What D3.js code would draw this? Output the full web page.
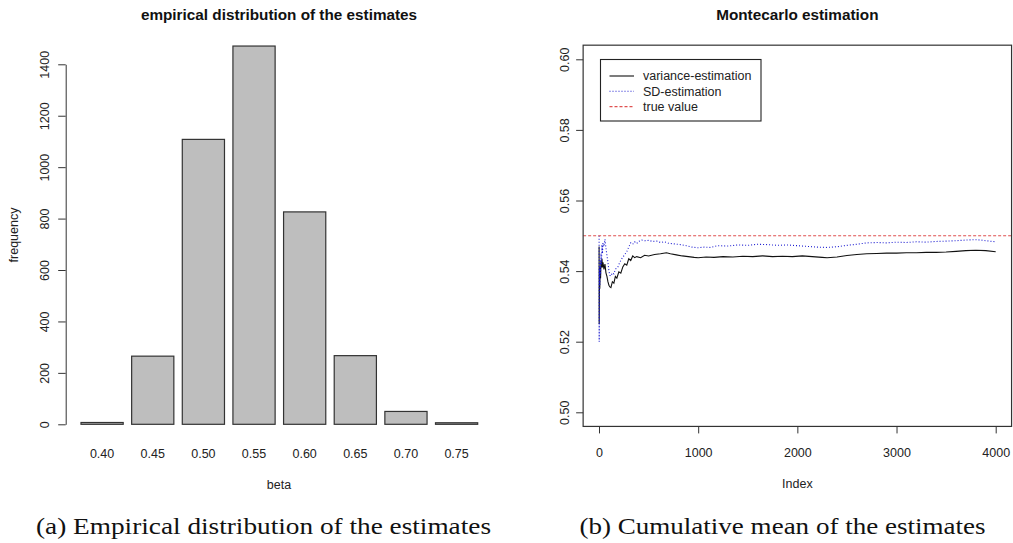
<!DOCTYPE html>
<html>
<head>
<meta charset="utf-8">
<script src="https://cdn.jsdelivr.net/npm/d3@7"></script>
<style>
  body { margin: 0; background: #fff; }
  svg { display: block; font-family: "Liberation Sans", Arial, sans-serif; }
  .caption { font-family: "Liberation Serif", "DejaVu Serif", serif; font-size: 23px; fill: #111; }
  .title { font-weight: bold; font-size: 15.3px; fill: #111; }
  .lab { font-size: 12.5px; fill: #222; }
</style>
</head>
<body>
<svg id="fig" width="1013" height="543"></svg>
<script>
// left panel: histogram of beta estimates
const betaLabels = ['0.40', '0.45', '0.50', '0.55', '0.60', '0.65', '0.70', '0.75'];
const frequency = [7, 265, 1108, 1471, 826, 267, 50, 6];
const freqTicks = [0, 200, 400, 600, 800, 1000, 1200, 1400];

// right panel: cumulative means, [index, value]
const indexTicks = [0, 1000, 2000, 3000, 4000];
const estimateTicks = [0.50, 0.52, 0.54, 0.56, 0.58, 0.60];
const trueValue = 0.55;
const varianceEstimation = [
    [1, 0.547], [2, 0.525], [3, 0.530], [5, 0.537], [8, 0.535], [12, 0.541], [16, 0.538], [20, 0.543],
    [25, 0.541], [30, 0.5435], [35, 0.541], [40, 0.5425], [50, 0.5405], [60, 0.542], [70, 0.5395],
    [80, 0.5385], [90, 0.537], [100, 0.536], [110, 0.5355], [120, 0.5353], [135, 0.5370], [150, 0.5366],
    [165, 0.5385], [180, 0.5380], [200, 0.5398], [220, 0.5394], [240, 0.5412], [260, 0.5421],
    [280, 0.5417], [300, 0.5435], [320, 0.5430], [340, 0.5443], [360, 0.5438], [380, 0.5441],
    [420, 0.5438], [460, 0.5445], [500, 0.5443], [560, 0.5447], [620, 0.5449], [680, 0.5452],
    [720, 0.5449], [780, 0.5446], [840, 0.5443], [900, 0.5441], [960, 0.5439], [1000, 0.5438],
    [1080, 0.5440], [1160, 0.5439], [1250, 0.5441], [1350, 0.5440], [1450, 0.5442], [1550, 0.5441],
    [1650, 0.5443], [1750, 0.5441], [1850, 0.5442], [1950, 0.5441], [2050, 0.5443], [2150, 0.5441],
    [2250, 0.5439], [2300, 0.5438], [2400, 0.5440], [2500, 0.5444], [2600, 0.5447], [2700, 0.5449],
    [2800, 0.5450], [2900, 0.5451], [3000, 0.5451], [3100, 0.5452], [3200, 0.5452], [3300, 0.5453],
    [3400, 0.5453], [3500, 0.5454], [3600, 0.5456], [3700, 0.5458], [3800, 0.5459], [3900, 0.5458],
    [4000, 0.5455]
];
const sdEstimation = [
    [1, 0.550], [2, 0.520], [3, 0.532], [5, 0.541], [8, 0.536], [12, 0.543], [16, 0.539], [20, 0.545],
    [25, 0.542], [30, 0.5475], [35, 0.545], [40, 0.548], [50, 0.5470], [60, 0.5490], [70, 0.5465],
    [80, 0.5445], [90, 0.5425], [100, 0.5400], [110, 0.5388], [120, 0.5386], [135, 0.5395],
    [150, 0.5392], [165, 0.5405], [190, 0.5412], [210, 0.5425], [230, 0.5435], [260, 0.5447],
    [280, 0.5455], [300, 0.5468], [320, 0.5480], [340, 0.5476], [360, 0.5483], [380, 0.5478],
    [400, 0.5484], [430, 0.5488], [460, 0.5486], [500, 0.5487], [540, 0.5484], [580, 0.5485],
    [620, 0.5481], [660, 0.5483], [700, 0.5479], [760, 0.5477], [820, 0.5475], [880, 0.5472],
    [940, 0.5468], [1000, 0.5466], [1060, 0.5468], [1120, 0.5467], [1200, 0.5472], [1300, 0.5471],
    [1400, 0.5474], [1500, 0.5473], [1600, 0.5476], [1700, 0.5475], [1800, 0.5473], [1900, 0.5474],
    [2000, 0.5472], [2100, 0.5470], [2200, 0.5468], [2300, 0.5467], [2400, 0.5469], [2500, 0.5473],
    [2600, 0.5476], [2700, 0.5480], [2800, 0.5481], [2900, 0.5480], [3000, 0.5482], [3100, 0.5481],
    [3200, 0.5483], [3300, 0.5482], [3400, 0.5484], [3500, 0.5485], [3600, 0.5486], [3700, 0.5488],
    [3800, 0.5489], [3850, 0.5488], [3900, 0.5486], [4000, 0.5483]
];
const legendItems = [
    { label: 'variance-estimation', color: '#111', dash: null },
    { label: 'SD-estimation', color: '#1a1ad0', dash: '1,2' },
    { label: 'true value', color: '#e05050', dash: '3,2' }
];

const svg = d3.select('#fig');
svg.append('rect').attr('width', 1013).attr('height', 543).attr('fill', '#fff');

// strip the fonts d3.axis puts on its group so the css applies
function plainAxis(g) {
    g.attr('font-family', null).attr('font-size', null);
    g.selectAll('line').attr('stroke', '#333');
    g.selectAll('text').attr('class', 'lab').attr('fill', null);
}

// ---------- left panel ----------
const left = svg.append('g');
const xBand = d3.scaleBand().domain(betaLabels).range([81, 477.7]).paddingInner(1 / 6).paddingOuter(0);
const yFreq = d3.scaleLinear().domain([0, 1400]).range([424.3, 64.3]);

left.selectAll('rect.bar')
    .data(frequency)
    .enter().append('rect')
    .attr('class', 'bar')
    .attr('x', (d, i) => xBand(betaLabels[i]))
    .attr('y', d => yFreq(d))
    .attr('width', xBand.bandwidth())
    .attr('height', d => yFreq(0) - yFreq(d))
    .attr('fill', '#bebebe')
    .attr('stroke', '#333')
    .attr('stroke-width', 1.2);

const yAxisL = left.append('g')
    .attr('transform', 'translate(65.7,0)')
    .call(d3.axisLeft(yFreq).tickValues(freqTicks).tickSize(7.5).tickSizeOuter(0).tickFormat(d3.format('d')))
    .call(plainAxis);
yAxisL.select('.domain').attr('stroke', '#333');
yAxisL.selectAll('text')
    .attr('transform', 'rotate(-90)')
    .attr('x', 0).attr('y', -16.5).attr('dy', 0)
    .attr('text-anchor', 'middle');

left.selectAll('text.cat')
    .data(betaLabels)
    .enter().append('text')
    .attr('class', 'lab cat')
    .attr('x', d => xBand(d) + xBand.bandwidth() / 2)
    .attr('y', 458)
    .attr('text-anchor', 'middle')
    .text(d => d);

left.append('text').attr('class', 'lab').attr('x', 279).attr('y', 489).attr('text-anchor', 'middle').text('beta');
left.append('text').attr('class', 'lab')
    .attr('transform', 'translate(17.5,235) rotate(-90)')
    .attr('text-anchor', 'middle').text('frequency');
left.append('text').attr('class', 'title').attr('x', 279).attr('y', 19.5).attr('text-anchor', 'middle')
    .text('empirical distribution of the estimates');

// ---------- right panel ----------
const right = svg.append('g');
const xIdx = d3.scaleLinear().domain([0, 4000]).range([599, 995.7]);
const yEst = d3.scaleLinear().domain([0.50, 0.60]).range([412.3, 59.3]);
const boxL = xIdx(-160), boxR = xIdx(4160), boxT = yEst(0.604), boxB = yEst(0.496);

const clip = right.append('clipPath').attr('id', 'plotclip');
clip.append('rect').attr('x', boxL).attr('y', boxT).attr('width', boxR - boxL).attr('height', boxB - boxT);

const line = d3.line().x(d => xIdx(d[0])).y(d => yEst(d[1]));
const lines = right.append('g').attr('clip-path', 'url(#plotclip)');
lines.append('path').datum(varianceEstimation)
    .attr('d', line).attr('fill', 'none').attr('stroke', legendItems[0].color).attr('stroke-width', 1.1);
lines.append('path').datum(sdEstimation)
    .attr('d', line).attr('fill', 'none').attr('stroke', legendItems[1].color).attr('stroke-width', 1.1)
    .attr('stroke-dasharray', legendItems[1].dash);
lines.append('line')
    .attr('x1', boxL).attr('x2', boxR).attr('y1', yEst(trueValue)).attr('y2', yEst(trueValue))
    .attr('stroke', legendItems[2].color).attr('stroke-width', 1.1).attr('stroke-dasharray', legendItems[2].dash);

right.append('rect')
    .attr('x', boxL).attr('y', boxT).attr('width', boxR - boxL).attr('height', boxB - boxT)
    .attr('fill', 'none').attr('stroke', '#333').attr('stroke-width', 1.2);

const xAxisR = right.append('g')
    .attr('transform', `translate(0,${boxB})`)
    .call(d3.axisBottom(xIdx).tickValues(indexTicks).tickSize(7).tickFormat(d3.format('d')))
    .call(plainAxis);
xAxisR.select('.domain').remove();
xAxisR.selectAll('text').attr('y', 457.5 - boxB).attr('dy', 0);

const yAxisR = right.append('g')
    .attr('transform', `translate(${boxL},0)`)
    .call(d3.axisLeft(yEst).tickValues(estimateTicks).tickSize(7).tickFormat(d3.format('.2f')))
    .call(plainAxis);
yAxisR.select('.domain').remove();
yAxisR.selectAll('text')
    .attr('transform', 'rotate(-90)')
    .attr('x', 0).attr('y', -14.5).attr('dy', 0)
    .attr('text-anchor', 'middle');

right.append('text').attr('class', 'lab').attr('x', (boxL + boxR) / 2).attr('y', 488).attr('text-anchor', 'middle').text('Index');
right.append('text').attr('class', 'title').attr('x', (boxL + boxR) / 2).attr('y', 20).attr('text-anchor', 'middle')
    .text('Montecarlo estimation');

// legend
const legend = right.append('g');
legend.append('rect').attr('x', 600.5).attr('y', 59.5).attr('width', 160.5).attr('height', 61.5)
    .attr('fill', '#fff').attr('stroke', '#222').attr('stroke-width', 1.1);
legendItems.forEach((item, i) => {
    const y = 76 + i * 15.3;
    legend.append('line').attr('x1', 609.5).attr('x2', 634).attr('y1', y).attr('y2', y)
        .attr('stroke', item.color).attr('stroke-width', 1.1).attr('stroke-dasharray', item.dash);
    legend.append('text').attr('class', 'lab').attr('x', 643).attr('y', y + 4.3).text(item.label);
});

// captions
svg.append('text').attr('class', 'caption').attr('x', 36).attr('y', 534)
    .attr('textLength', 455).attr('lengthAdjust', 'spacingAndGlyphs')
    .text('(a) Empirical distribution of the estimates');
svg.append('text').attr('class', 'caption').attr('x', 579.5).attr('y', 534)
    .attr('textLength', 406).attr('lengthAdjust', 'spacingAndGlyphs')
    .text('(b) Cumulative mean of the estimates');
</script>
</body>
</html>
